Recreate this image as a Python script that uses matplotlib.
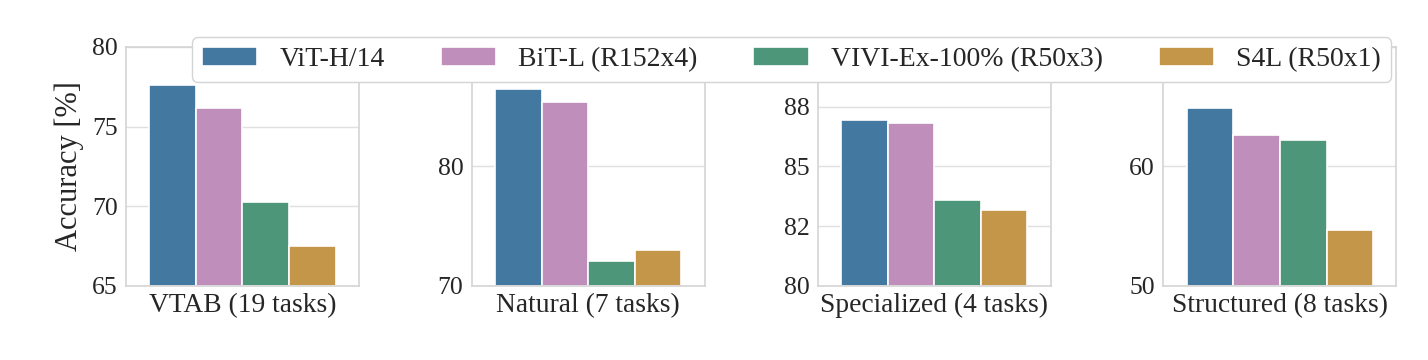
import numpy as np
import matplotlib
matplotlib.use("Agg")
import matplotlib.pyplot as plt
from matplotlib.ticker import FuncFormatter

plt.rcParams["font.family"] = ["Liberation Serif", "DejaVu Serif"]
plt.rcParams["text.color"] = "#262626"
plt.rcParams["axes.labelcolor"] = "#262626"
plt.rcParams["xtick.color"] = "#262626"
plt.rcParams["ytick.color"] = "#262626"

models = ["ViT-H/14", "BiT-L (R152x4)", "VIVI-Ex-100% (R50x3)", "S4L (R50x1)"]
colors = ["#4378a0", "#c08ebb", "#4e9679", "#c3964a"]

groups = ["VTAB (19 tasks)", "Natural (7 tasks)", "Specialized (4 tasks)", "Structured (8 tasks)"]
vtab = [77.6, 76.2, 70.3, 67.5]
natural = [86.5, 85.4, 72.1, 73.0]
specialized = [86.95, 86.8, 83.6, 83.2]
structured = [64.9, 62.6, 62.2, 54.7]
values = [vtab, natural, specialized, structured]

ylims = [(65, 80), (70, 90), (80, 90), (50, 70)]
yticks = [[65, 70, 75, 80], [70, 80, 90], [80, 82.5, 85, 87.5], [50, 60, 70]]

fig = plt.figure(figsize=(14.28, 3.6), dpi=100)
lefts = [0.0882, 0.3303, 0.5726, 0.8147]

bar_w = 0.2
offsets = (np.arange(len(models)) - 1.5) * bar_w

handles = []
for i, vals in enumerate(values):
    ax = fig.add_axes([lefts[i], 0.2056, 0.1632, 0.6639])
    for j, v in enumerate(vals):
        lo = ylims[i][0]
        b = ax.bar(offsets[j], v - lo, bottom=lo, width=bar_w,
                   color=colors[j], edgecolor="white", linewidth=1.2,
                   label=models[j], zorder=2)
        if i == 0:
            handles.append(b)
    ax.set_xlim(-0.5, 0.5)
    ax.set_ylim(*ylims[i])
    ax.set_yticks(yticks[i])
    ax.yaxis.set_major_formatter(FuncFormatter(lambda x, p: f"{x:.0f}"))
    ax.set_xticks([])
    ax.set_xlabel(groups[i], fontsize=19.8, labelpad=5)
    ax.tick_params(axis="y", labelsize=18.5, length=0, pad=6)
    ax.grid(axis="y", color="#e0e0e0", linewidth=1, zorder=0)
    ax.set_axisbelow(True)
    for s in ax.spines.values():
        s.set_color("#d4d4d4")
        s.set_linewidth(1.2)
    if i == 0:
        ax.set_ylabel("Accuracy [%]", fontsize=22, labelpad=6)

fig.legend(handles, models, loc="upper center", ncol=4,
           bbox_to_anchor=(791.5 / 1428, 1 - 37 / 360),
           fontsize=20, frameon=True, edgecolor="#d4d4d4",
           framealpha=1, borderpad=0.35, borderaxespad=0,
           handlelength=2.0, handletextpad=0.8, columnspacing=2.0)

fig.savefig("out.png", dpi=100)
